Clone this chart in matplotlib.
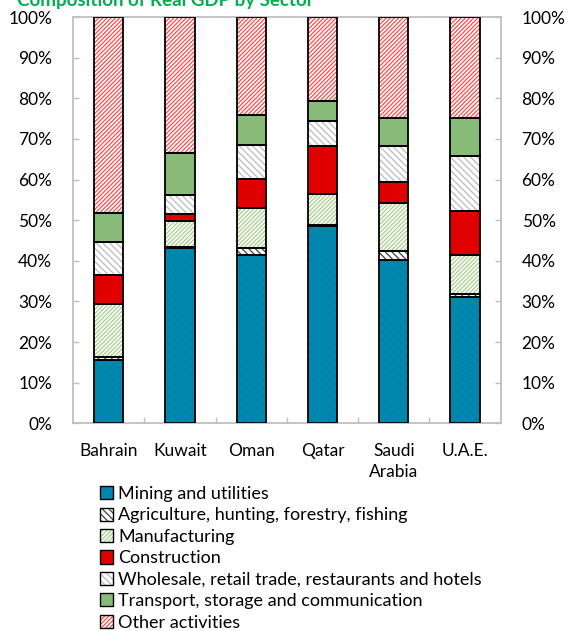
import matplotlib
matplotlib.use("Agg")
import matplotlib.pyplot as plt
from matplotlib.patches import Patch
from matplotlib.ticker import PercentFormatter, FixedLocator
from matplotlib.legend_handler import HandlerPatch
import matplotlib.patches as mpatches
import numpy as np

plt.rcParams['font.family'] = ['Lato', 'DejaVu Sans']
plt.rcParams['hatch.linewidth'] = 0.9

countries = ["Bahrain", "Kuwait", "Oman", "Qatar", "Saudi\nArabia", "U.A.E."]
sectors = ["Mining and utilities",
           "Agriculture, hunting, forestry, fishing",
           "Manufacturing",
           "Construction",
           "Wholesale, retail trade, restaurants and hotels",
           "Transport, storage and communication",
           "Other activities"]

mining        = [15.7, 43.2, 41.5, 48.5, 40.3, 31.0]
agriculture   = [0.6, 0.1, 1.7, 0.4, 2.2, 0.8]
manufacturing = [13.0, 6.4, 9.7, 7.6, 11.8, 9.7]
construction  = [7.2, 1.7, 7.3, 11.8, 5.0, 10.7]
wholesale     = [8.0, 4.7, 8.4, 6.0, 9.0, 13.5]
transport     = [7.2, 10.5, 7.3, 5.1, 6.8, 9.4]
other         = [48.3, 33.4, 24.1, 20.7, 24.9, 24.9]

series = [mining, agriculture, manufacturing, construction, wholesale, transport, other]

# style: (face, hatch, hatch colour)
styles = [
    ("#0088AE", "\\\\\\\\", "#0580A6"),
    ("white", "\\\\\\\\\\", "#404040"),
    ("white", "////////", "#A8D08D"),
    ("#E00000", None, None),
    ("white", "\\\\\\\\\\", "#BBBBBB"),
    ("#88BA78", None, None),
    ("white", "////////", "#FF4D4D"),
]

fig = plt.figure(figsize=(5.68, 6.31), dpi=100)
ax = fig.add_axes([73/568, 1-423.3/631, (500.7-73)/568, (423.3-17)/631])

x = np.arange(len(countries))
width = 0.41
bottom = np.zeros(len(countries))
handles = []
for vals, (face, hatch, hc), name in zip(series, styles, sectors):
    v = np.array(vals) / 100.0
    if hatch:
        ax.bar(x, v, width, bottom=bottom, color=face, hatch=hatch,
               edgecolor=hc, linewidth=0, zorder=2)
    else:
        ax.bar(x, v, width, bottom=bottom, color=face, linewidth=0, zorder=2)
    ax.bar(x, v, width, bottom=bottom, fill=False, edgecolor="black",
           linewidth=1.3, zorder=3)
    bottom += v
    handles.append(Patch(facecolor=face, hatch=hatch,
                         edgecolor=hc if hc else "black", linewidth=0))

ax.set_xlim(-0.5, len(countries) - 0.5)
ax.set_ylim(0, 1)
ax.yaxis.set_major_locator(FixedLocator(np.linspace(0, 1, 11)))
ax.yaxis.set_major_formatter(PercentFormatter(1.0, decimals=0))
ax.set_xticks(x)
ax.set_xticklabels(countries, fontsize=12.5, linespacing=1.4)
ax.set_xticks(np.arange(0.5, len(countries) - 0.5, 1), minor=True)
ax.tick_params(axis='x', which='major', length=0, pad=14)
ax.tick_params(axis='x', which='minor', direction='in', length=4, color='#BFBFBF', width=1)
ax.tick_params(axis='y', direction='in', length=4.5, color='#BFBFBF', width=1,
               left=True, right=True, labelleft=True, labelright=True,
               labelsize=12.5, pad=15)
for s in ax.spines.values():
    s.set_color('#BFBFBF')
    s.set_linewidth(1.3)


class OutlinedHandler(HandlerPatch):
    def create_artists(self, legend, orig_handle, xdescent, ydescent, width, height, fontsize, trans):
        size = min(width, height)
        x0 = -xdescent + (width - size) / 2
        y0 = -ydescent + (height - size) / 2
        p = mpatches.Rectangle((x0, y0), size, size, facecolor=orig_handle.get_facecolor(),
                               hatch=orig_handle.get_hatch(), edgecolor=orig_handle.get_edgecolor(),
                               linewidth=0, transform=trans)
        o = mpatches.Rectangle((x0, y0), size, size, fill=False, edgecolor='black',
                               linewidth=1.0, transform=trans)
        return [p, o]


leg = fig.legend(handles, sectors, loc='upper left', bbox_to_anchor=(100/568, 1-486/631),
                 frameon=False, fontsize=13, handlelength=0.75, handleheight=0.75,
                 handletextpad=0.25, labelspacing=0.30, borderaxespad=0, borderpad=0,
                 handler_map={Patch: OutlinedHandler()})

fig.text(17/568, 1-6/631, "Composition of Real GDP by Sector", color="#00B050",
         fontsize=13.5, fontweight='bold', ha='left', va='baseline')

fig.savefig("out.png", dpi=100)
